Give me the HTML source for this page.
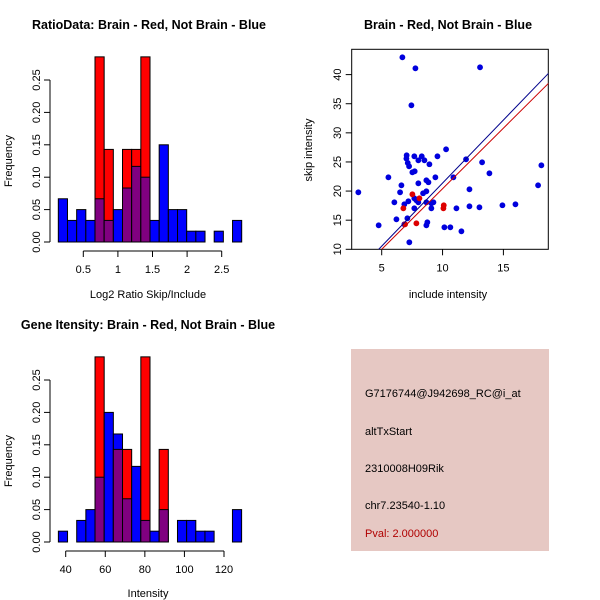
<!DOCTYPE html>
<html><head><meta charset="utf-8"><style>
body{margin:0;background:#fff}
svg{display:block;font-family:"Liberation Sans",sans-serif}
</style></head><body>
<svg id="c" width="600" height="600" xmlns="http://www.w3.org/2000/svg">
<rect width="600" height="600" fill="#fff"/>
<text x="149" y="29" font-size="12.5" font-weight="bold" text-anchor="middle">RatioData: Brain - Red, Not Brain - Blue</text>
<text x="448" y="29" font-size="12.5" font-weight="bold" text-anchor="middle">Brain - Red, Not Brain - Blue</text>
<text x="148" y="329" font-size="12.5" font-weight="bold" text-anchor="middle">Gene Itensity: Brain - Red, Not Brain - Blue</text>
<g id="h1"></g>
<g id="h2"></g>
<g id="sc"></g>
<g>
<rect x="351" y="349" width="198" height="202" fill="#e6c8c3"/>
<g font-size="11">
<text x="365" y="397">G7176744@J942698_RC@i_at</text>
<text x="365" y="435">altTxStart</text>
<text x="365" y="472">2310008H09Rik</text>
<text x="365" y="509">chr7.23540-1.10</text>
<text x="365" y="537" fill="#b00000">Pval: 2.000000</text>
</g></g>
</svg>
<script>
const ratioBlue=[0.0667,0.0333,0.05,0.0333,0.0667,0.0333,0.05,0.0833,0.1167,0.1,0.0333,0.15,0.05,0.05,0.0167,0.0167,0,0.0167,0,0.0333];
const ratioRed=[0,0,0,0,0.2857,0.1429,0,0.1429,0.1429,0.2857,0,0,0,0,0,0,0,0,0,0];
const ratioStart=0.139, ratioStep=0.1325;
const ratioTicks=[0.5,1.0,1.5,2.0,2.5];
const intBlue=[0.0167,0,0.0333,0.05,0.1,0.2,0.1667,0.0667,0.1167,0.0333,0.0167,0.05,0,0.0333,0.0333,0.0167,0.0167,0,0,0.05];
const intRed=[0,0,0,0,0.2857,0,0.1429,0.1429,0,0.2857,0,0.1429,0,0,0,0,0,0,0,0];
const intStart=36.3, intStep=4.63;
const intTicks=[40,60,80,100,120];
const freqTicks=[0,0.05,0.10,0.15,0.20,0.25];
const blueX=[6.70,7.77,13.08,7.44,10.29,7.05,7.68,8.29,7.03,8.01,8.51,9.58,11.93,7.14,7.25,8.92,13.25,18.12,7.52,7.71,13.85,5.55,8.67,9.41,10.89,8.84,8.01,6.62,17.85,6.51,3.08,12.21,8.40,8.67,6.04,7.19,6.86,7.68,7.85,8.01,8.67,9.08,9.25,7.68,9.08,11.14,12.21,13.03,14.92,15.99,6.21,7.11,4.75,6.86,8.67,8.75,10.15,10.64,11.55,7.27];
const blueY=[42.97,41.08,41.25,34.73,27.17,26.14,25.97,25.97,25.57,25.28,25.28,25.97,25.45,24.83,24.25,24.60,24.94,24.42,23.22,23.39,23.05,22.36,21.85,22.36,22.36,21.51,21.33,20.99,20.99,19.79,19.79,20.30,19.62,19.96,18.07,18.24,17.73,18.76,18.41,18.07,18.07,17.90,18.07,17.04,17.04,17.04,17.38,17.21,17.56,17.73,15.15,15.32,14.12,14.29,14.12,14.64,13.78,13.78,13.09,11.20];
const redX=[7.52,8.10,6.78,10.10,10.07,7.85,6.92];
const redY=[19.44,18.76,17.04,17.56,17.04,14.46,14.29];
const blueFit=[2.166,-0.29], redFit=[2.08,-0.40];
const xTicksSc=[5,10,15], yTicksSc=[10,15,20,25,30,35,40];

const NS="http://www.w3.org/2000/svg";
function mk(p,t,a){const e=document.createElementNS(NS,t);for(const k in a)e.setAttribute(k,a[k]);p.appendChild(e);return e;}
function hist(g,top,blue,red,start,step,ticks,xlab,xA,xB,vA,vB,xlabY){
  const base=top+202, y=v=>base-v*648;
  const x=v=>xA+(v-vA)*(xB-xA)/(vB-vA);
  for(let i=0;i<blue.length;i++){
    const b=blue[i],r=red[i],x0=x(start+i*step),w=x(start+(i+1)*step)-x0;
    const hi=Math.max(b,r),lo=Math.min(b,r);
    if(hi>0){const e=mk(g,'rect',{x:x0,y:y(hi),width:w,height:base-y(hi),fill:r>b?'#ff0000':'#0000ff',stroke:'#000','stroke-width':1});
      
      }
    if(lo>0){const e=mk(g,'rect',{x:x0,y:y(lo),width:w,height:base-y(lo),fill:'#800080',stroke:'#000','stroke-width':1});
      
      }
  }
  mk(g,'line',{x1:50,x2:50,y1:y(0),y2:y(0.25),stroke:'#000'});
  freqTicks.forEach(t=>{mk(g,'line',{x1:44,x2:50,y1:y(t),y2:y(t),stroke:'#000'});
    const tx=mk(g,'text',{x:0,y:0,'font-size':11,'text-anchor':'middle',transform:`translate(40,${y(t)}) rotate(-90)`});tx.textContent=t.toFixed(2);
    
    });
  const ay=base+9;
  mk(g,'line',{x1:x(ticks[0]),x2:x(ticks[ticks.length-1]),y1:ay,y2:ay,stroke:'#000'});
  ticks.forEach(t=>{mk(g,'line',{x1:x(t),x2:x(t),y1:ay,y2:ay+6,stroke:'#000'});
    const tx=mk(g,'text',{x:x(t),y:ay+22,'font-size':11,'text-anchor':'middle'});tx.textContent=String(t);
    
    });
  const xl=mk(g,'text',{x:148,y:xlabY,'font-size':11,'text-anchor':'middle'});xl.textContent=xlab;
  
  
  const yl=mk(g,'text',{x:0,y:0,'font-size':11,'text-anchor':'middle',transform:`translate(12,${top+121}) rotate(-90)`});yl.textContent='Frequency';
  
  
}
hist(document.getElementById('h1'),40,ratioBlue,ratioRed,ratioStart,ratioStep,ratioTicks,'Log2 Ratio Skip/Include',83.3,221.7,0.5,2.5,298);
hist(document.getElementById('h2'),340,intBlue,intRed,intStart,intStep,intTicks,'Intensity',65.7,224,40,120,597);

const g=document.getElementById('sc');
const sx=v=>381.7+(v-5)*12.17, sy=v=>249.3-(v-10)*5.823;
const L=351.7,R=548.3,T=49.3,B=249.3;
mk(g,'rect',{x:L,y:T,width:R-L,height:B-T,fill:'none',stroke:'#000'});
const defs=mk(g,'defs',{});const cp=mk(defs,'clipPath',{id:'clp'});mk(cp,'rect',{x:L,y:T,width:R-L,height:B-T});
xTicksSc.forEach(t=>{mk(g,'line',{x1:sx(t),x2:sx(t),y1:B,y2:B+6,stroke:'#000'});
  const tx=mk(g,'text',{x:sx(t),y:B+22,'font-size':11,'text-anchor':'middle'});tx.textContent=t;
  
  });
yTicksSc.forEach(t=>{mk(g,'line',{x1:L-6,x2:L,y1:sy(t),y2:sy(t),stroke:'#000'});
  const tx=mk(g,'text',{x:0,y:0,'font-size':11,'text-anchor':'middle',transform:`translate(341,${sy(t)}) rotate(-90)`});tx.textContent=t;
  
  });
const xl=mk(g,'text',{x:448,y:298,'font-size':11,'text-anchor':'middle'});xl.textContent='include intensity';


const yl=mk(g,'text',{x:0,y:0,'font-size':11,'text-anchor':'middle',transform:'translate(312,150) rotate(-90)'});yl.textContent='skip intensity';


const cg=mk(g,'g',{'clip-path':'url(#clp)'});
blueX.forEach((v,i)=>{const c=mk(cg,'circle',{cx:sx(v),cy:sy(blueY[i]),r:2.9,fill:'#0000dd'});
  
  });
redX.forEach((v,i)=>{const c=mk(cg,'circle',{cx:sx(v),cy:sy(redY[i]),r:2.9,fill:'#dd0000'});
  
  });
[[blueFit,'#00008b','blue-fit-line'],[redFit,'#cc0000','red-fit-line']].forEach(([f,c,n])=>{
  const x0=0,x1=20;const e=mk(cg,'line',{x1:sx(x0),y1:sy(f[0]*x0+f[1]),x2:sx(x1),y2:sy(f[0]*x1+f[1]),stroke:c,'stroke-width':1});
  
  });
</script>
</body></html>
